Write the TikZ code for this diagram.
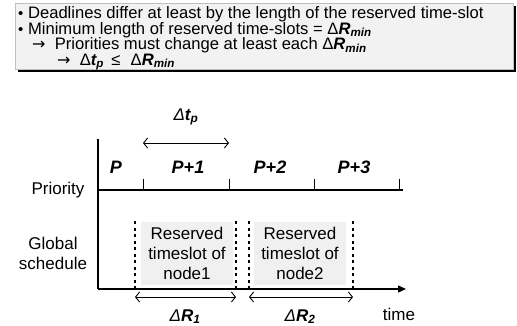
\documentclass[tikz,border=0pt]{standalone}
\usepackage{fontspec}
\setmainfont{Liberation Sans}
\newfontfamily\symfont{DejaVu Sans}
\usetikzlibrary{arrows.meta,shadows}
\definecolor{boxgrey}{RGB}{242,242,242}
\definecolor{slotgrey}{RGB}{240,240,240}

\newcommand{\dR}[1]{Δ\textbf{\textit{R\textsubscript{#1}}}}
\newcommand{\dtp}{\textit{Δ}\textbf{\textit{t\textsubscript{p}}}}
\newcommand{\arr}{{\symfont\fontsize{16}{16}\selectfont →}}
\newcommand{\bul}{{\fontsize{15}{15}\selectfont •}}

\begin{document}
\begin{tikzpicture}[x=1pt, y=-1pt,
	txt/.style={ font=\fontsize{17}{20}\selectfont, inner sep=0pt },
	note/.style={ font=\fontsize{16.6}{18}\selectfont, inner sep=0pt, anchor=base west },
	lbl/.style={ font=\fontsize{18}{20}\selectfont\bfseries\itshape, inner sep=0pt },
	notebox/.style={ draw=gray!50, fill=boxgrey, line width=0.5pt, inner sep=0pt,
		drop shadow={shadow xshift=3pt, shadow yshift=-3pt, fill=black, opacity=1} },
	axis/.style={ line width=1.2pt },
	tick/.style={ line width=1pt },
	span/.style={ line width=0.9pt, {Straight Barb[length=4pt,width=10pt]}-{Straight Barb[length=4pt,width=10pt]} },
	border/.style={ line width=1.8pt, dash pattern=on 3pt off 3.5pt },
	slot/.style={ txt, fill=slotgrey, align=center, minimum width=92pt, minimum height=63pt }
]
\useasboundingbox (0,0) rectangle (517,325);

% notes on top
\node (notes) [notebox, anchor=north west, minimum width=498pt, minimum height=66pt] at (15,3) {};
\node (l1) [note] at (18,18.5) {\bul\ Deadlines differ at least by the length of the reserved time-slot};
\node (l2) [note] at (18,34) {\bul\ Minimum length of reserved time-slots = \dR{min}};
\node (l3) [note] at (32,49.5) {\arr\ \ Priorities must change at least each \dR{min}};
\node (l4) [note] at (57,65) {\arr\ \ Δ\textbf{\textit{t\textsubscript{p}}}\, ≤\,\, \dR{min}};

% axes
\coordinate (ytop) at (98,139);
\coordinate (origin) at (98,289);
\coordinate (xend) at (406,289);
\coordinate (pstart) at (98,190);
\coordinate (pend) at (403,190);
\draw[axis] (ytop) -- (origin);
\draw[axis, -{Triangle[length=8pt,width=7pt]}] (origin) -- (xend);
\draw[axis] (pstart) -- (pend);

% priority steps
\coordinate (t1) at (143,190);
\coordinate (t2) at (229,190);
\coordinate (t3) at (314,190);
\coordinate (t4) at (399,190);
\foreach \t in {t1,t2,t3,t4}
	\draw[tick] (\t) -- ++(0,-11);
\draw[span] ([yshift=47pt]t1) -- ([yshift=47pt]t2);
\node (dtp) [txt] at (186,117) {\dtp};

\node (p0) [lbl] at (116,167) {P};
\node (p1) [lbl] at (188,167) {P+1};
\node (p2) [lbl] at (270,167) {P+2};
\node (p3) [lbl] at (354,167) {P+3};

\node (prio) [txt] at (58,190) {Priority};
\node (glob) [txt, align=center] at (53,253) {Global\\schedule};
\node (time) [txt, anchor=base] at (399,320) {time};

% reserved slots
\node (slot1) [slot] at (187,253.5) {Reserved\\timeslot of\\node1};
\node (slot2) [slot] at (300,253.5) {Reserved\\timeslot of\\node2};

\coordinate (s1) at (135,289);
\coordinate (s2) at (236,289);
\coordinate (s3) at (249,289);
\coordinate (s4) at (353,289);
\foreach \s in {s1,s2,s3,s4}
	\draw[border] (\s) -- ++(0,-68);
\draw[span] ([yshift=-8pt]s1) -- ([yshift=-8pt]s2);
\draw[span] ([yshift=-8pt]s3) -- ([yshift=-8pt]s4);

\node (r1) [txt, anchor=base] at (185,321) {\itshape \dR{1}};
\node (r2) [txt, anchor=base] at (300,321) {\itshape \dR{2}};
\end{tikzpicture}
\end{document}
